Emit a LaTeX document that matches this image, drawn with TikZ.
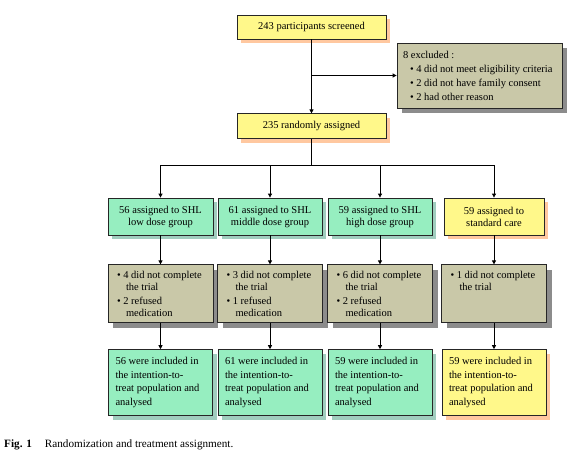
\documentclass[tikz,border=0pt]{standalone}
\usepackage{fontspec}
\setmainfont{Liberation Serif}
\usetikzlibrary{
  positioning,
  calc,
  arrows.meta,
  shadows}
\definecolor{screencolor}{RGB}{255,248,138}
\definecolor{screenshadow}{RGB}{255,200,160}
\definecolor{groupcolor}{RGB}{150,238,192}
\definecolor{groupshadow}{RGB}{160,205,190}
\definecolor{dropcolor}{RGB}{201,200,168}
\definecolor{dropshadow}{RGB}{140,140,140}
\newcommand{\hang}{\hspace*{9pt}}
\tikzset{
  %% box : border and font of every box
  box/.style={
    rectangle,
    draw=black!85,
    line width=0.8pt,
    font=\fontsize{10.5}{12}\selectfont,
    inner sep=0pt
  },
  %% screen : the yellow boxes (screening, control arm)
  screen/.style={
    box,
    fill=screencolor,
    drop shadow={fill=screenshadow, opacity=1,
      shadow xshift=4pt, shadow yshift=-4pt}
  },
  %% group : the green boxes (SHL arms)
  group/.style={
    box,
    fill=groupcolor,
    drop shadow={fill=groupshadow, opacity=1,
      shadow xshift=4pt, shadow yshift=-4pt}
  },
  %% drop : the grey boxes (excluded, withdrawn)
  drop/.style={
    box,
    fill=dropcolor,
    drop shadow={fill=dropshadow, opacity=1,
      shadow xshift=5pt, shadow yshift=-5pt}
  },
  %% arm : a box of the arm row
  arm/.style={
    minimum width=105pt,
    minimum height=37pt,
    align=center
  },
  %% loss : a box of the withdrawal row
  loss/.style={
    inner xsep=9pt,
    text width=87pt,
    minimum height=58pt,
    align=flush left
  },
  %% itt : a box of the analysis row
  itt/.style={
    inner xsep=7pt,
    text width=90pt,
    minimum height=66pt,
    align=flush left,
    font=\fontsize{10.5}{13.7}\selectfont
  },
  %% link : connection between boxes
  link/.style={
    line width=0.8pt,
    -{Triangle[length=4pt, width=4pt]}
  }
}

\begin{document}
\begin{tikzpicture}
  [x=1pt,
  y=-1pt]

  \useasboundingbox (0, 0) rectangle (576, 460);

  %% Screening
  \node (screened) [screen, minimum width=149pt, minimum height=24pt]
  at (311.5, 27) {243 participants screened};

  \node (excluded) [drop, inner xsep=6pt, text width=153pt,
    minimum height=65pt, align=flush left,
    font=\fontsize{10.5}{14}\selectfont] at (479.5, 75.5) {%
    8 excluded :\\
    \hspace*{7pt}\textbullet\ 4 did not meet eligibility criteria\\
    \hspace*{7pt}\textbullet\ 2 did not have family consent\\
    \hspace*{7pt}\textbullet\ 2 had other reason
  };

  \node (randomized) [below=74pt of screened, screen,
    minimum width=149pt, minimum height=25pt]{%
    235 randomly assigned
  };

  %% Arms
  \node (group low) [group, arm] at (160.5, 216.5){%
    56 assigned to SHL\\ low dose group
  };
  \node (group mid) [group, arm, minimum width=104pt] at (270, 216.5){%
    61 assigned to SHL\\ middle dose group
  };
  \node (group high) [group, arm, minimum width=104pt] at (380, 216.5){%
    59 assigned to SHL\\ high dose group
  };
  \node (group std) [screen, arm, minimum width=100pt] at (494, 216.5){%
    59 assigned to\\ standard care
  };

  %% Withdrawals
  \node (drop low) [below=29pt of group low, drop, loss]{%
    \textbullet\ 4 did not complete\\ \hang the trial\\[2.5pt]
    \textbullet\ 2 refused\\ \hang medication
  };
  \node (drop mid) [below=29pt of group mid, drop, loss]{%
    \textbullet\ 3 did not complete\\ \hang the trial\\[2.5pt]
    \textbullet\ 1 refused\\ \hang medication
  };
  \node (drop high) [below=29pt of group high, drop, loss]{%
    \textbullet\ 6 did not complete\\ \hang the trial\\[2.5pt]
    \textbullet\ 2 refused\\ \hang medication
  };
  \node (drop std) [below=29pt of group std, drop, loss]{%
    \textbullet\ 1 did not complete\\ \hang the trial\\[2.5pt]
    \mbox{}\\ \mbox{}
  };

  %% Analysis
  \node (itt low) [below=26pt of drop low, group, itt]{%
    56 were included in\\ the intention-to-\\ treat population and\\ analysed
  };
  \node (itt mid) [below=26pt of drop mid, group, itt]{%
    61 were included in\\ the intention-to-\\ treat population and\\ analysed
  };
  \node (itt high) [below=26pt of drop high, group, itt]{%
    59 were included in\\ the intention-to-\\ treat population and\\ analysed
  };
  \node (itt std) [below=26pt of drop std, screen, itt]{%
    59 were included in\\ the intention-to-\\ treat population and\\ analysed
  };

  %% Connections
  \coordinate (excl split) at (screened |- excluded.west);
  \coordinate (split) at (311.5, 165);

  \draw [link] (screened) -- (randomized);
  \draw [link] (excl split) -- (excluded.west);
  \draw [line width=0.8pt] (randomized) -- (split);
  \draw [link] (split) -| (group low);
  \draw [link] (split) -| (group mid);
  \draw [link] (split) -| (group high);
  \draw [link] (split) -| (group std);

  \draw [link] (group low) -- (drop low);
  \draw [link] (group mid) -- (drop mid);
  \draw [link] (group high) -- (drop high);
  \draw [link] (group std) -- (drop std);

  \draw [link] (drop low) -- (itt low);
  \draw [link] (drop mid) -- (itt mid);
  \draw [link] (drop high) -- (itt high);
  \draw [link] (drop std) -- (itt std);

  %% Caption
  \node (caption) [anchor=base west, inner sep=0pt,
    font=\fontsize{11.2}{13}\selectfont]
  at (4, 447) {\textbf{Fig. 1}\hspace{13pt}Randomization and treatment assignment.};

\end{tikzpicture}
\end{document}
